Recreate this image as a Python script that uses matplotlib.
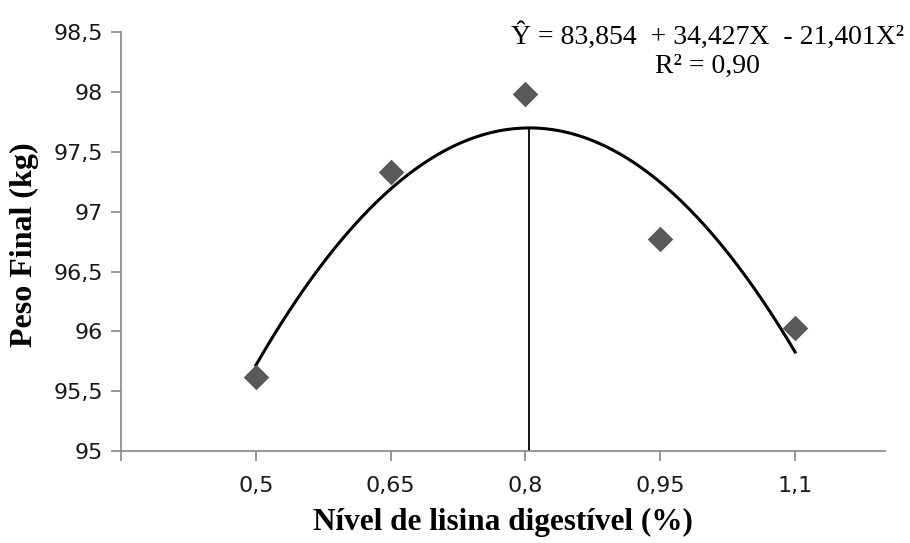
import matplotlib
matplotlib.use("Agg")
import matplotlib.pyplot as plt
import numpy as np

# observed means
lisina = [0.5, 0.65, 0.8, 0.95, 1.1]
peso = [95.62, 97.33, 97.98, 96.77, 96.03]
x_ticks = [0.35, 0.5, 0.65, 0.8, 0.95, 1.1]
x_ticklabels = ["", "0,5", "0,65", "0,8", "0,95", "1,1"]
y_ticks = [95, 95.5, 96, 96.5, 97, 97.5, 98, 98.5]
y_ticklabels = ["95", "95,5", "96", "96,5", "97", "97,5", "98", "98,5"]
# quadratic fit shown on the chart: Y = b0 + b1*X + b2*X^2
coef = [83.854, 34.427, -21.401]


def main():
    fig = plt.figure(figsize=(9.1, 5.43), dpi=100)
    ax = fig.add_axes([0.133, 0.169, 0.8395, 0.772])

    xs = np.linspace(lisina[0], lisina[-1], 200)
    ys = coef[0] + coef[1] * xs + coef[2] * xs ** 2
    ax.plot(xs, ys, color="black", lw=2.2, zorder=2)

    x_max = -coef[1] / (2 * coef[2])
    y_max = coef[0] + coef[1] * x_max + coef[2] * x_max ** 2
    ax.plot([x_max, x_max], [95, y_max], color="black", lw=1.3, zorder=2)

    ax.scatter(lisina, peso, marker="D", s=170, color="#595959", zorder=3,
               linewidths=0)

    ax.set_xlim(0.35, 1.2)
    ax.set_ylim(95, 98.5)
    ax.set_xticks(x_ticks)
    ax.set_xticklabels(x_ticklabels)
    ax.set_yticks(y_ticks)
    ax.set_yticklabels(y_ticklabels)
    for s in ("top", "right"):
        ax.spines[s].set_visible(False)
    for s in ("left", "bottom"):
        ax.spines[s].set_color("#868686")
        ax.spines[s].set_linewidth(1.2)
    ax.tick_params(length=7, width=1.2, color="#868686", labelsize=16,
                   labelcolor="#1a1a1a", pad=11)
    ax.tick_params(axis="y", pad=6)

    serif = "Liberation Serif"
    fig.text(0.553, 0.038, "Nível de lisina digestível (%)", ha="center",
             va="center", fontsize=22.5, fontweight="bold", family=serif)
    fig.text(0.027, 0.55, "Peso Final (kg)", rotation=90, ha="center",
             va="center", fontsize=23, fontweight="bold", family=serif)
    fig.text(0.778, 0.933, "Ŷ = 83,854  + 34,427X  - 21,401X²",
             ha="center", va="center", fontsize=20, family=serif)
    fig.text(0.777, 0.877, "R² = 0,90", ha="center", va="center",
             fontsize=20, family=serif)

    fig.savefig("out.png", dpi=100)
    plt.close(fig)


if __name__ == "__main__":
    main()
